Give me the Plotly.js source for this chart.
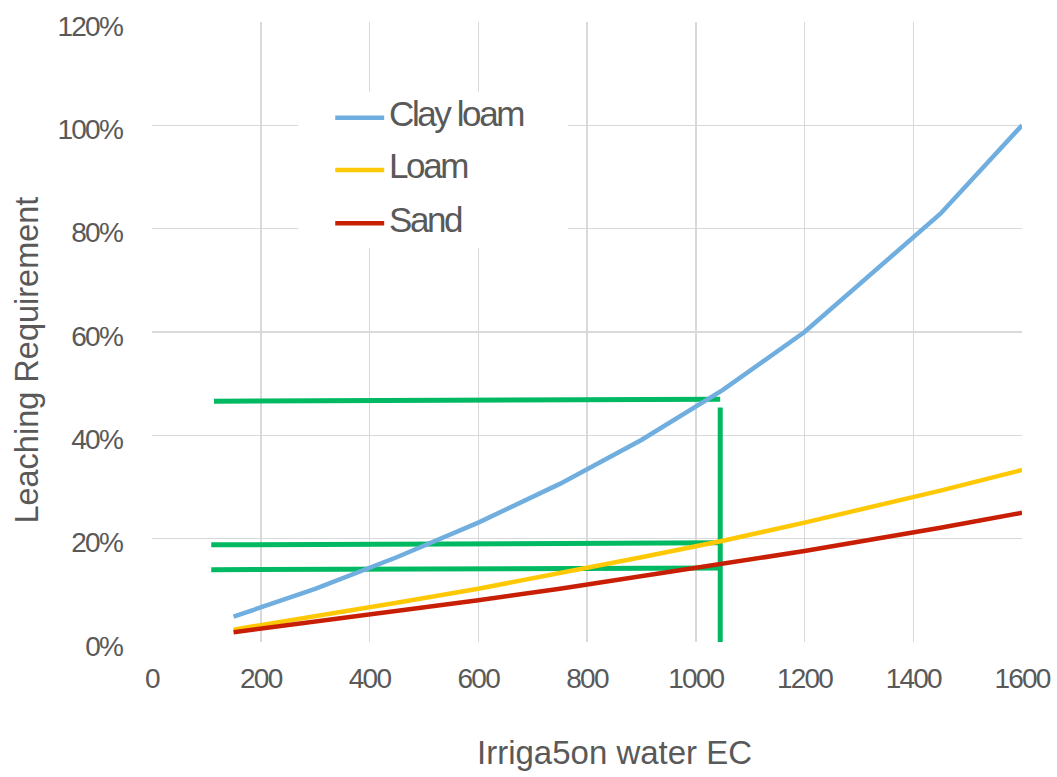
<!DOCTYPE html>
<html>
<head>
<meta charset="utf-8">
<script src="https://cdn.plot.ly/plotly-3.0.1.min.js"></script>
<style>
  html, body { margin: 0; padding: 0; background: #fff; }
  #chart { width: 1057px; height: 777px; }
  /* tight tracking for tick labels and legend entries */
  #chart .xtick text, #chart .ytick text { letter-spacing: -1.8px; }
  #chart .annotation[data-index="0"] text,
  #chart .annotation[data-index="1"] text,
  #chart .annotation[data-index="2"] text { letter-spacing: -2.4px; }
</style>
</head>
<body>
<div id="chart"></div>
<script>
// Irrigation water EC (x) against leaching requirement (fraction) per soil type
const ec = [150, 300, 450, 600, 750, 900, 1050, 1200, 1450, 1600];
const clayLoam = [0.049, 0.103, 0.164, 0.231, 0.306, 0.391, 0.488, 0.600, 0.829, 1.000];
const loam = [0.024, 0.049, 0.076, 0.103, 0.133, 0.164, 0.196, 0.231, 0.293, 0.333];
const sand = [0.019, 0.039, 0.059, 0.081, 0.103, 0.127, 0.151, 0.176, 0.221, 0.250];
const seriesNames = ['Clay loam', 'Loam', 'Sand'];

// Read-off guides at EC = 1045
const guideStartX = [114, 109, 109];
const guideEndX = [1045, 1045, 1045];
const guideStartY = [0.466, 0.188, 0.140];
const guideEndY = [0.470, 0.192, 0.143];
const guideVX = [1045, 1045];
const guideVY = [0, 0.454];

const xTicks = [0, 200, 400, 600, 800, 1000, 1200, 1400, 1600];
const yTicks = [0, 0.2, 0.4, 0.6, 0.8, 1.0, 1.2];
const yTickText = ['0%', '20%', '40%', '60%', '80%', '100%', '120%'];

const colors = ['#6FAEDE', '#FFC805', '#C81E04'];
const green = '#00B962';
const textGrey = '#595959';
const gridGrey = '#D9D9D9';
const FONT = '"Liberation Sans", Arial, sans-serif';

const traces = [];
for (let i = 0; i < guideStartX.length; i++) {
  traces.push({
    x: [guideStartX[i], guideEndX[i]], y: [guideStartY[i], guideEndY[i]],
    mode: 'lines', line: {color: green, width: 5}, hoverinfo: 'skip', showlegend: false
  });
}
traces.push({
  x: guideVX, y: guideVY, mode: 'lines', line: {color: green, width: 5},
  hoverinfo: 'skip', showlegend: false, cliponaxis: false
});
[clayLoam, loam, sand].forEach((vals, i) => {
  traces.push({
    x: ec, y: vals, name: seriesNames[i], mode: 'lines',
    line: {color: colors[i], width: 4.5}, showlegend: false
  });
});

// Hand-built legend box in data coordinates
const legendBox = {x0: 269, x1: 765, y0: 0.7625, y1: 1.0644};
const legendRowsY = [1.0147, 0.9135, 0.8103];
const legendLineX = [337, 427];
const legendTextX = 432;

const shapes = [{
  type: 'rect', xref: 'x', yref: 'y', layer: 'above',
  x0: legendBox.x0, x1: legendBox.x1, y0: legendBox.y0, y1: legendBox.y1,
  fillcolor: '#ffffff', line: {width: 0}
}];
const annotations = [];
seriesNames.forEach((name, i) => {
  shapes.push({
    type: 'line', xref: 'x', yref: 'y', layer: 'above',
    x0: legendLineX[0], x1: legendLineX[1], y0: legendRowsY[i], y1: legendRowsY[i],
    line: {color: colors[i], width: 4.5}
  });
  annotations.push({
    xref: 'x', yref: 'y', x: legendTextX, y: legendRowsY[i] + 0.008,
    xanchor: 'left', yanchor: 'middle', align: 'left', showarrow: false, text: name,
    font: {family: FONT, size: 35, color: textGrey}
  });
});

annotations.push({
  xref: 'x', yref: 'paper', x: 850, y: -0.179, xanchor: 'center', yanchor: 'middle',
  showarrow: false, text: 'Irriga5on water EC',
  font: {family: FONT, size: 33, color: textGrey}
});
annotations.push({
  xref: 'paper', yref: 'paper', x: -0.1440, y: 0.455, xanchor: 'center', yanchor: 'middle',
  showarrow: false, text: 'Leaching Requirement', textangle: -90,
  font: {family: FONT, size: 32.5, color: textGrey}
});

const layout = {
  width: 1057, height: 777,
  margin: {l: 151.5, r: 35, t: 22, b: 135},
  paper_bgcolor: '#ffffff', plot_bgcolor: '#ffffff',
  showlegend: false,
  xaxis: {
    range: [0, 1600], tickvals: xTicks, ticks: '',
    showgrid: true, gridcolor: gridGrey, gridwidth: 1.5,
    zeroline: false, showline: false,
    tickfont: {family: FONT, size: 28, color: textGrey},
    ticklabelstandoff: 17
  },
  yaxis: {
    range: [0, 1.2], tickvals: yTicks, ticktext: yTickText, ticks: '',
    showgrid: true, gridcolor: gridGrey, gridwidth: 1.5,
    zeroline: false, showline: false,
    tickfont: {family: FONT, size: 28, color: textGrey},
    ticklabelstandoff: 29, ticklabelshift: 4
  },
  shapes: shapes,
  annotations: annotations
};

Plotly.newPlot('chart', traces, layout, {staticPlot: true, displayModeBar: false});
</script>
</body>
</html>
